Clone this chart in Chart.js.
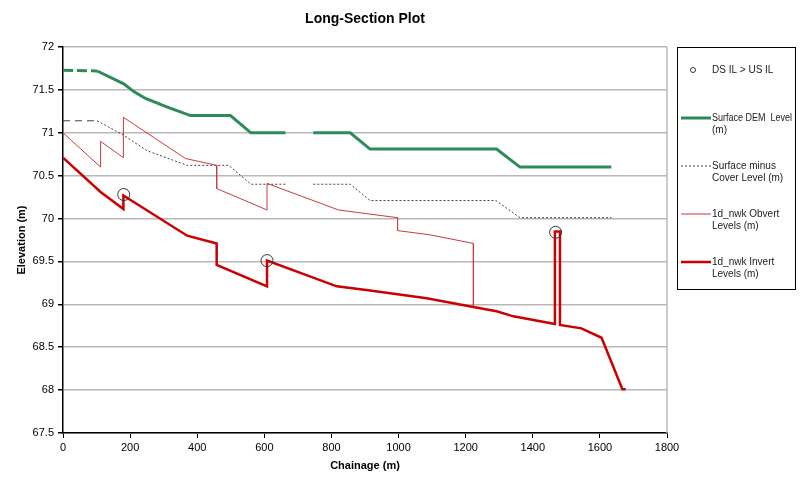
<!DOCTYPE html>
<html>
<head>
<meta charset="utf-8">
<title>Long-Section Plot</title>
<script src="https://cdn.jsdelivr.net/npm/chart.js@4.4.1/dist/chart.umd.min.js"></script>
<style>
  body { margin: 0; background: #fff; }
  #wrap { width: 800px; height: 483px; }
</style>
</head>
<body>
<div id="wrap"><canvas id="longSection" width="800" height="483"></canvas></div>
<script>
const demChainage = [0, 102, 181, 211, 246, 311, 380, 499, 560, 663, 705, 746, 856, 915, 1292, 1362, 1634];
const demLevel    = [71.73, 71.72, 71.57, 71.48, 71.40, 71.30, 71.20, 71.20, 71.00, 71.00, null, 71.00, 71.00, 70.81, 70.81, 70.60, 70.60];

const coverChainage = [0, 102, 181, 251, 370, 494, 560, 663, 705, 746, 856, 915, 1290, 1362, 1634];
const coverLevel    = [71.14, 71.14, 70.97, 70.79, 70.62, 70.62, 70.40, 70.40, null, 70.40, 70.40, 70.21, 70.21, 70.01, 70.01];

const obvertChainage = [0, 112, 112, 180, 180, 365, 458, 458, 608, 608, 821, 997, 997, 1094, 1223, 1223];
const obvertLevel    = [71.00, 70.60, 70.90, 70.71, 71.18, 70.70, 70.62, 70.35, 70.10, 70.41, 70.10, 70.01, 69.86, 69.81, 69.71, 68.97];

const invertChainage = [0, 112, 180, 180, 370, 458, 458, 608, 608, 816, 915, 1084, 1223, 1292, 1342, 1466, 1466, 1481, 1481, 1545, 1605, 1667, 1677];
const invertLevel    = [70.71, 70.31, 70.11, 70.27, 69.80, 69.71, 69.46, 69.21, 69.51, 69.21, 69.16, 69.07, 68.97, 68.92, 68.86, 68.77, 69.85, 69.85, 68.76, 68.72, 68.61, 68.01, 68.01];

const dsChainage = [181, 608, 1468];
const dsLevel    = [70.28, 69.51, 69.84];

const xTicks = { min: 0, max: 1800, step: 200 };
const yTicks = { min: 67.5, max: 72, step: 0.5 };

const FONT = "'Liberation Sans', Arial, sans-serif";
Chart.defaults.font.family = FONT;
Chart.defaults.color = '#000';

function toPoints(xs, ys) {
  return xs.map((x, i) => ({ x: x, y: ys[i] }));
}

const datasets = [
  {
    label: ['DS IL > US IL'],
    data: toPoints(dsChainage, dsLevel),
    showLine: false,
    pointRadius: 6,
    pointBorderColor: '#333',
    pointBorderWidth: 1,
    pointBackgroundColor: 'rgba(0,0,0,0)',
    borderColor: '#333',
    order: 0
  },
  {
    label: ['Surface DEM  Level', '(m)'],
    data: toPoints(demChainage, demLevel),
    borderColor: '#2e8b57',
    borderWidth: 3,
    segment: { borderDash: ctx => ctx.p0DataIndex === 0 ? [10, 4] : undefined },
    order: 4
  },
  {
    label: ['Surface minus', 'Cover Level (m)'],
    data: toPoints(coverChainage, coverLevel),
    borderColor: '#444',
    borderWidth: 1,
    borderDash: [2, 2],
    segment: { borderDash: ctx => ctx.p0DataIndex === 0 ? [7, 5] : [2, 2] },
    order: 3
  },
  {
    label: ['1d_nwk Obvert', 'Levels (m)'],
    data: toPoints(obvertChainage, obvertLevel),
    borderColor: '#c83c3c',
    borderWidth: 1,
    order: 2
  },
  {
    label: ['1d_nwk Invert', 'Levels (m)'],
    data: toPoints(invertChainage, invertLevel),
    borderColor: '#cc0000',
    borderWidth: 2.5,
    order: 1
  }
];

// title over the plot area, grey right frame and boxed legend
const frameAndLegend = {
  id: 'frameAndLegend',
  afterDraw(chart) {
    const { ctx, chartArea: a } = chart;
    ctx.save();

    ctx.strokeStyle = '#b8b8b8';
    ctx.lineWidth = 1.5;
    ctx.beginPath();
    ctx.moveTo(a.right, a.top);
    ctx.lineTo(a.right, a.bottom);
    ctx.stroke();

    ctx.fillStyle = '#000';
    ctx.font = 'bold 14px ' + FONT;
    ctx.textAlign = 'center';
    ctx.textBaseline = 'middle';
    ctx.fillText('Long-Section Plot', (a.left + a.right) / 2, 19);

    ctx.strokeStyle = '#000';
    ctx.lineWidth = 1;
    ctx.strokeRect(677.5, 47.5, 118, 242);

    ctx.font = '10px ' + FONT;
    ctx.textAlign = 'left';
    chart.data.datasets.forEach((ds, i) => {
      const y = 70 + i * 48;
      ctx.strokeStyle = ds.borderColor;
      if (ds.showLine === false) {
        ctx.lineWidth = 1;
        ctx.setLineDash([]);
        ctx.beginPath();
        ctx.arc(693, y, 2.5, 0, Math.PI * 2);
        ctx.stroke();
      } else {
        ctx.lineWidth = ds.borderWidth;
        ctx.setLineDash(ds.borderDash || []);
        ctx.beginPath();
        ctx.moveTo(681, y);
        ctx.lineTo(711, y);
        ctx.stroke();
      }
      ctx.setLineDash([]);
      ctx.fillStyle = '#222';
      ds.label.forEach((line, j) => ctx.fillText(line, 712, y + j * 12.5, 80));
    });
    ctx.restore();
  }
};

new Chart(document.getElementById('longSection'), {
  type: 'line',
  data: { datasets: datasets },
  plugins: [frameAndLegend],
  options: {
    responsive: false,
    animation: false,
    layout: { padding: { top: 47, right: 133, bottom: 0, left: 0 } },
    elements: {
      line: { tension: 0, fill: false },
      point: { radius: 0, hoverRadius: 0 }
    },
    spanGaps: false,
    plugins: {
      legend: { display: false },
      title: { display: false },
      tooltip: { enabled: false }
    },
    scales: {
      x: {
        type: 'linear',
        min: xTicks.min,
        max: xTicks.max,
        ticks: { stepSize: xTicks.step, color: '#000', font: { size: 11 }, padding: 3, maxRotation: 0, callback: v => String(v) },
        grid: { drawOnChartArea: false, tickLength: 5, tickColor: '#000' },
        border: { color: '#000', width: 1.5 },
        title: { display: true, text: 'Chainage (m)', color: '#000', font: { size: 11, weight: 'bold' }, padding: { top: 0, bottom: 10 } },
        afterFit: s => { s.height = 50; }
      },
      y: {
        min: yTicks.min,
        max: yTicks.max,
        ticks: { stepSize: yTicks.step, color: '#000', font: { size: 11 }, padding: 4, callback: v => String(v) },
        grid: { color: '#b8b8b8', lineWidth: 1.5, tickLength: 5, tickColor: '#000' },
        border: { color: '#000', width: 1.5 },
        title: { display: true, text: 'Elevation (m)', color: '#000', font: { size: 11, weight: 'bold' }, padding: { top: 15, bottom: 0 } },
        afterFit: s => { s.width = 63; }
      }
    }
  }
});
</script>
</body>
</html>
